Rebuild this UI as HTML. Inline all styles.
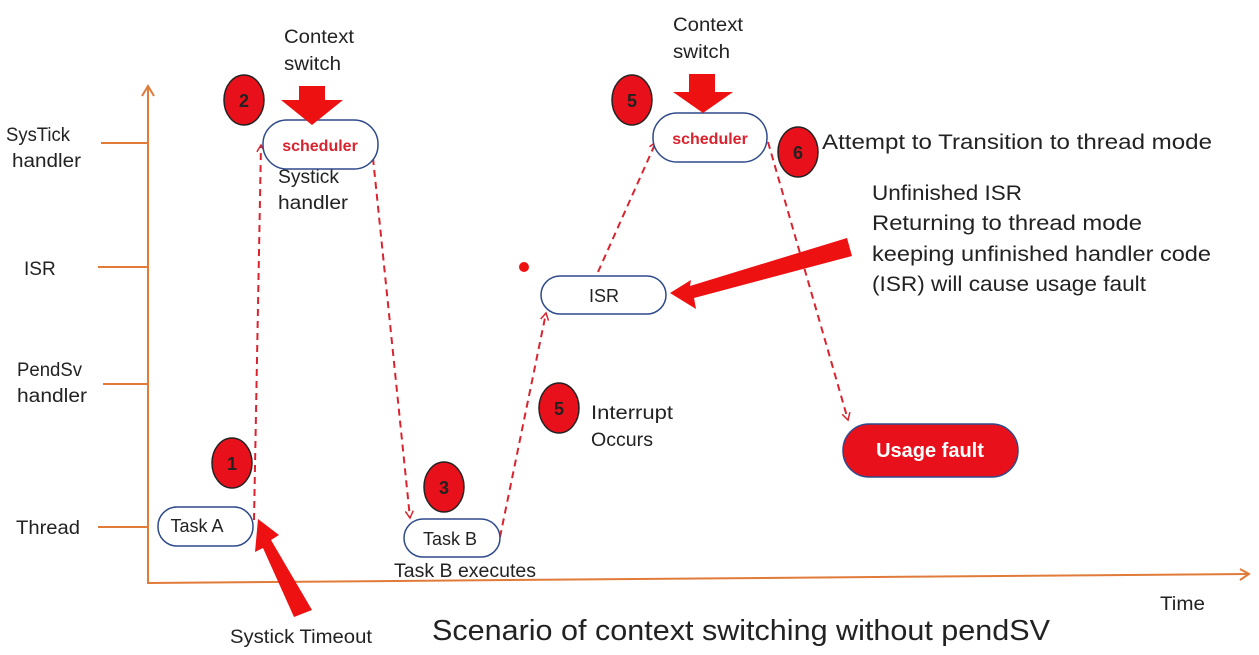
<!DOCTYPE html>
<html><head><meta charset="utf-8"><style>
html,body{margin:0;padding:0;background:#fff;}
svg{display:block;font-family:"Liberation Sans",sans-serif;}
</style></head><body>
<svg width="1259" height="655" viewBox="0 0 1259 655" xmlns="http://www.w3.org/2000/svg">
<defs>
<marker id="ah" markerWidth="10" markerHeight="10" refX="8" refY="5" orient="auto" markerUnits="userSpaceOnUse">
<path d="M1,1 L8,5 L1,9" fill="none" stroke="#d9232e" stroke-width="1.5"/></marker>
</defs>
<g stroke="#e07b39" stroke-width="2" fill="none">
<line x1="148" y1="86" x2="148" y2="584"/>
<path d="M142,96 L148,86 L154,96"/>
<line x1="148" y1="583" x2="1248" y2="574"/>
<path d="M1240,569 L1249,574 L1240,580"/>
<line x1="101" y1="143" x2="148" y2="143"/>
<line x1="98" y1="267" x2="148" y2="267"/>
<line x1="103" y1="384" x2="148" y2="384"/>
<line x1="98" y1="527" x2="148" y2="527"/>
</g>
<g font-size="19" fill="#222">
<text x="6" y="141" textLength="64" lengthAdjust="spacingAndGlyphs">SysTick</text><text x="12" y="167" textLength="69" lengthAdjust="spacingAndGlyphs">handler</text>
<text x="24" y="275">ISR</text>
<text x="17" y="376" textLength="65" lengthAdjust="spacingAndGlyphs">PendSv</text><text x="17" y="402" textLength="70" lengthAdjust="spacingAndGlyphs">handler</text>
<text x="16" y="534" textLength="64" lengthAdjust="spacingAndGlyphs">Thread</text>
<text x="284" y="43" textLength="70" lengthAdjust="spacingAndGlyphs">Context</text><text x="284" y="70" textLength="57" lengthAdjust="spacingAndGlyphs">switch</text>
<text x="673" y="31" textLength="70" lengthAdjust="spacingAndGlyphs">Context</text><text x="673" y="58" textLength="57" lengthAdjust="spacingAndGlyphs">switch</text>
<text x="278" y="183" textLength="61" lengthAdjust="spacingAndGlyphs">Systick</text><text x="278" y="209" textLength="70" lengthAdjust="spacingAndGlyphs">handler</text>
<text x="591" y="419" textLength="82" lengthAdjust="spacingAndGlyphs">Interrupt</text><text x="591" y="446" textLength="62" lengthAdjust="spacingAndGlyphs">Occurs</text>
<text x="394" y="577" textLength="142" lengthAdjust="spacingAndGlyphs">Task B executes</text>
<text x="230" y="643" textLength="142" lengthAdjust="spacingAndGlyphs">Systick Timeout</text>
<text x="1160" y="610" textLength="45" lengthAdjust="spacingAndGlyphs">Time</text>
</g>
<g font-size="21" fill="#222">
<text x="822" y="149" textLength="390" lengthAdjust="spacingAndGlyphs">Attempt to Transition to thread mode</text>
<text x="872" y="200" textLength="150" lengthAdjust="spacingAndGlyphs">Unfinished ISR</text>
<text x="872" y="230" textLength="270" lengthAdjust="spacingAndGlyphs">Returning to thread mode</text>
<text x="872" y="261" textLength="339" lengthAdjust="spacingAndGlyphs">keeping unfinished handler code</text>
<text x="872" y="291" textLength="274" lengthAdjust="spacingAndGlyphs">(ISR) will cause usage fault</text>
</g>
<text x="432" y="640" font-size="29" fill="#222" textLength="618" lengthAdjust="spacingAndGlyphs">Scenario of context switching without pendSV</text>
<g stroke="#d9232e" stroke-width="2" stroke-dasharray="7,5" fill="none" marker-end="url(#ah)">
<line x1="254" y1="520" x2="261" y2="145"/>
<line x1="373" y1="158" x2="410" y2="518"/>
<line x1="500" y1="537" x2="546" y2="313"/>
<line x1="598" y1="272" x2="656" y2="142"/>
<line x1="768" y1="142" x2="848" y2="420"/>
</g>
<g fill="#fff" stroke="#2e4a8a" stroke-width="1.5">
<rect x="158" y="507" width="95" height="39" rx="19"/>
<rect x="404" y="519" width="96" height="38" rx="19"/>
<rect x="263" y="120" width="115" height="49" rx="24"/>
<rect x="541" y="276" width="125" height="38" rx="19"/>
<rect x="653" y="113" width="114" height="49" rx="24"/>
</g>
<rect x="843" y="424" width="175" height="53" rx="26" fill="#e8101a" stroke="#2e4a8a" stroke-width="1.5"/>
<g font-size="18" fill="#222" text-anchor="middle">
<text x="197" y="532">Task A</text>
<text x="450" y="545">Task B</text>
<text x="604" y="302">ISR</text>
</g>
<g font-size="16" fill="#d9232e" text-anchor="middle" font-weight="bold">
<text x="320" y="151">scheduler</text>
<text x="710" y="144">scheduler</text>
</g>
<text x="930" y="457" font-size="20" font-weight="bold" fill="#fff" text-anchor="middle">Usage fault</text>
<g fill="#e8101a" stroke="#222" stroke-width="1.5">
<ellipse cx="232" cy="463" rx="20" ry="25"/>
<ellipse cx="244" cy="100" rx="20" ry="25"/>
<ellipse cx="444" cy="487" rx="20" ry="25"/>
<ellipse cx="559" cy="408" rx="20" ry="25"/>
<ellipse cx="632" cy="100" rx="20" ry="25"/>
<ellipse cx="798" cy="152" rx="20" ry="25"/>
</g>
<g font-size="18" fill="#222" text-anchor="middle" font-weight="bold">
<text x="232" y="470">1</text><text x="244" y="107">2</text><text x="444" y="494">3</text>
<text x="559" y="415">5</text><text x="632" y="107">5</text><text x="798" y="159">6</text>
</g>
<g fill="#ee1111">
<polygon points="299,86 325,86 325,100 343,100 312,125 281,100 299,100"/>
<polygon points="689,74 715,74 715,92 733,92 703,113 673,92 689,92"/>
<polygon points="312,610 294,617 263,548 255,552 258,519 279,535 271,540"/>
<polygon points="847,238 852,256 694,298 696,309 670,293 691,280 690,286"/>
<circle cx="524" cy="267" r="5"/>
</g>
</svg>
</body></html>
